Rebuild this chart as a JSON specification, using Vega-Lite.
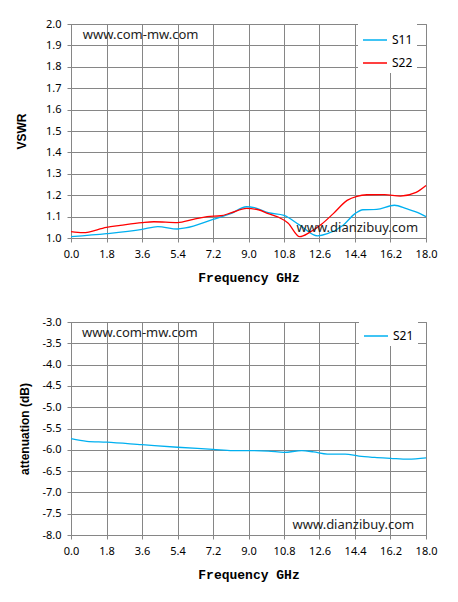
{
  "$schema": "https://vega.github.io/schema/vega-lite/v6.json",
  "background": "white",
  "padding": {"top": 17, "left": 14, "right": 20, "bottom": 10},
  "datasets": {
    "vswr": [
      {"f": 0.0, "v": 1.006, "s": "S11"},
      {"f": 1.8, "v": 1.02, "s": "S11"},
      {"f": 3.6, "v": 1.04, "s": "S11"},
      {"f": 4.4, "v": 1.053, "s": "S11"},
      {"f": 5.4, "v": 1.042, "s": "S11"},
      {"f": 5.8, "v": 1.047, "s": "S11"},
      {"f": 7.2, "v": 1.087, "s": "S11"},
      {"f": 8.1, "v": 1.114, "s": "S11"},
      {"f": 8.9, "v": 1.146, "s": "S11"},
      {"f": 9.3, "v": 1.142, "s": "S11"},
      {"f": 10.0, "v": 1.118, "s": "S11"},
      {"f": 10.8, "v": 1.106, "s": "S11"},
      {"f": 11.6, "v": 1.06, "s": "S11"},
      {"f": 12.5, "v": 1.01, "s": "S11"},
      {"f": 13.0, "v": 1.02, "s": "S11"},
      {"f": 13.8, "v": 1.06, "s": "S11"},
      {"f": 14.4, "v": 1.114, "s": "S11"},
      {"f": 14.8, "v": 1.132, "s": "S11"},
      {"f": 15.5, "v": 1.134, "s": "S11"},
      {"f": 16.4, "v": 1.153, "s": "S11"},
      {"f": 17.0, "v": 1.137, "s": "S11"},
      {"f": 17.7, "v": 1.114, "s": "S11"},
      {"f": 18.0, "v": 1.1, "s": "S11"},
      {"f": 0.0, "v": 1.03, "s": "S22"},
      {"f": 0.6, "v": 1.025, "s": "S22"},
      {"f": 1.8, "v": 1.05, "s": "S22"},
      {"f": 2.5, "v": 1.059, "s": "S22"},
      {"f": 3.6, "v": 1.072, "s": "S22"},
      {"f": 4.2, "v": 1.076, "s": "S22"},
      {"f": 5.4, "v": 1.072, "s": "S22"},
      {"f": 6.2, "v": 1.087, "s": "S22"},
      {"f": 6.9, "v": 1.1, "s": "S22"},
      {"f": 7.6, "v": 1.104, "s": "S22"},
      {"f": 8.1, "v": 1.117, "s": "S22"},
      {"f": 8.9, "v": 1.138, "s": "S22"},
      {"f": 9.5, "v": 1.132, "s": "S22"},
      {"f": 10.0, "v": 1.114, "s": "S22"},
      {"f": 10.5, "v": 1.098, "s": "S22"},
      {"f": 11.0, "v": 1.07, "s": "S22"},
      {"f": 11.6, "v": 1.006, "s": "S22"},
      {"f": 12.1, "v": 1.026, "s": "S22"},
      {"f": 12.7, "v": 1.064, "s": "S22"},
      {"f": 13.3, "v": 1.114, "s": "S22"},
      {"f": 14.0, "v": 1.176, "s": "S22"},
      {"f": 14.5, "v": 1.195, "s": "S22"},
      {"f": 15.0, "v": 1.202, "s": "S22"},
      {"f": 15.9, "v": 1.203, "s": "S22"},
      {"f": 16.7, "v": 1.196, "s": "S22"},
      {"f": 17.5, "v": 1.213, "s": "S22"},
      {"f": 18.0, "v": 1.245, "s": "S22"}
    ],
    "att": [
      {"f": 0.0, "v": -5.74, "s": "S21"},
      {"f": 0.8, "v": -5.8, "s": "S21"},
      {"f": 1.8, "v": -5.82, "s": "S21"},
      {"f": 3.6, "v": -5.88, "s": "S21"},
      {"f": 5.4, "v": -5.94, "s": "S21"},
      {"f": 7.2, "v": -5.99, "s": "S21"},
      {"f": 8.2, "v": -6.02, "s": "S21"},
      {"f": 9.0, "v": -6.02, "s": "S21"},
      {"f": 10.0, "v": -6.03, "s": "S21"},
      {"f": 10.8, "v": -6.06, "s": "S21"},
      {"f": 11.7, "v": -6.02, "s": "S21"},
      {"f": 12.3, "v": -6.05, "s": "S21"},
      {"f": 13.0, "v": -6.1, "s": "S21"},
      {"f": 13.9, "v": -6.1, "s": "S21"},
      {"f": 14.6, "v": -6.15, "s": "S21"},
      {"f": 15.4, "v": -6.18, "s": "S21"},
      {"f": 16.2, "v": -6.2, "s": "S21"},
      {"f": 17.1, "v": -6.22, "s": "S21"},
      {"f": 18.0, "v": -6.19, "s": "S21"}
    ]
  },
  "vconcat": [
    {
      "width": 355,
      "height": 214,
      "layer": [
        {
          "data": {"name": "vswr"},
          "mark": {"type": "line", "interpolate": "monotone", "strokeWidth": 1.3},
          "encoding": {
            "x": {
              "field": "f", "type": "quantitative", "title": "Frequency GHz",
              "scale": {"domain": [0, 18], "nice": false},
              "axis": {"values": [0, 1.8, 3.6, 5.4, 7.2, 9, 10.8, 12.6, 14.4, 16.2, 18], "format": ".1f"}
            },
            "y": {
              "field": "v", "type": "quantitative", "title": "VSWR",
              "scale": {"domain": [1, 2], "nice": false, "zero": false},
              "axis": {"values": [1, 1.1, 1.2, 1.3, 1.4, 1.5, 1.6, 1.7, 1.8, 1.9, 2], "format": ".1f", "titlePadding": 17}
            },
            "color": {
              "field": "s", "type": "nominal",
              "scale": {"domain": ["S11", "S22"], "range": ["#00B0F0", "#FF0000"]},
              "legend": {"legendX": 287, "legendY": -1}
            }
          }
        },
        {
          "data": {"values": [{"label": "www.com-mw.com"}]},
          "mark": {"type": "text", "align": "left", "baseline": "middle", "fontSize": 13, "font": "Noto Sans", "color": "#222222"},
          "encoding": {
            "x": {"datum": 0.6, "type": "quantitative"},
            "y": {"datum": 1.949, "type": "quantitative"},
            "text": {"field": "label"}
          }
        },
        {
          "data": {"values": [{"label": "www.dianzibuy.com"}]},
          "mark": {"type": "text", "align": "right", "baseline": "middle", "fontSize": 13, "font": "Noto Sans", "color": "#222222"},
          "encoding": {
            "x": {"datum": 17.6, "type": "quantitative"},
            "y": {"datum": 1.047, "type": "quantitative"},
            "text": {"field": "label"}
          }
        }
      ]
    },
    {
      "width": 355,
      "height": 213,
      "layer": [
        {
          "data": {"name": "att"},
          "mark": {"type": "line", "interpolate": "monotone", "strokeWidth": 1.3},
          "encoding": {
            "x": {
              "field": "f", "type": "quantitative", "title": "Frequency GHz",
              "scale": {"domain": [0, 18], "nice": false},
              "axis": {"values": [0, 1.8, 3.6, 5.4, 7.2, 9, 10.8, 12.6, 14.4, 16.2, 18], "format": ".1f"}
            },
            "y": {
              "field": "v", "type": "quantitative", "title": "attenuation (dB)",
              "scale": {"domain": [-8, -3], "nice": false, "zero": false},
              "axis": {
                "values": [-8, -7.5, -7, -6.5, -6, -5.5, -5, -4.5, -4, -3.5, -3],
                "labelExpr": "replace(format(datum.value, '.1f'), '\u2212', '-')"
              }
            },
            "color": {
              "field": "s", "type": "nominal",
              "scale": {"domain": ["S21"], "range": ["#00B0F0"]},
              "legend": {"legendX": 288, "legendY": -3}
            }
          }
        },
        {
          "data": {"values": [{"label": "www.com-mw.com"}]},
          "mark": {"type": "text", "align": "left", "baseline": "middle", "fontSize": 13, "font": "Noto Sans", "color": "#222222"},
          "encoding": {
            "x": {"datum": 0.56, "type": "quantitative"},
            "y": {"datum": -3.26, "type": "quantitative"},
            "text": {"field": "label"}
          }
        },
        {
          "data": {"values": [{"label": "www.dianzibuy.com"}]},
          "mark": {"type": "text", "align": "right", "baseline": "middle", "fontSize": 13, "font": "Noto Sans", "color": "#222222"},
          "encoding": {
            "x": {"datum": 17.4, "type": "quantitative"},
            "y": {"datum": -7.77, "type": "quantitative"},
            "text": {"field": "label"}
          }
        }
      ]
    }
  ],
  "spacing": 30,
  "resolve": {"scale": {"color": "independent"}, "legend": {"color": "independent"}},
  "config": {
    "view": {"stroke": "#868686", "strokeWidth": 1},
    "axis": {
      "gridColor": "#868686", "gridOpacity": 1, "gridWidth": 1,
      "domainColor": "#868686", "tickColor": "#868686", "tickSize": 4,
      "tickCount": 30, "labelOverlap": false, "labelFlush": false,
      "labelFont": "Noto Sans", "labelFontSize": 11, "labelColor": "#000000",
      "titleColor": "#000000"
    },
    "axisX": {"labelPadding": 6, "titleFont": "Liberation Mono", "titleFontSize": 13, "titleFontWeight": "bold", "titlePadding": 12},
    "axisY": {"labelPadding": 6, "titleFont": "Liberation Sans", "titleFontSize": 12, "titleFontWeight": "bold", "titlePadding": 10},
    "legend": {
      "orient": "none", "title": null, "fillColor": "white", "padding": 4,
      "symbolType": "stroke", "symbolSize": 576, "symbolStrokeWidth": 1.5,
      "labelFont": "Noto Sans", "labelFontSize": 12, "labelColor": "#000000",
      "rowPadding": 4
    }
  }
}
